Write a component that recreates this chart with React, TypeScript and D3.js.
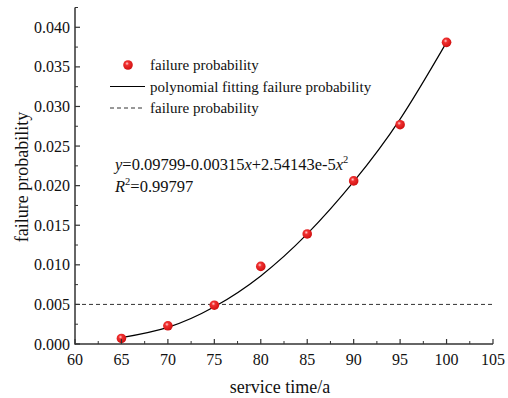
import React, { useEffect, useRef } from "react";
import * as d3 from "d3";

const serviceTime = [65, 70, 75, 80, 85, 90, 95, 100];
const failureProb = [0.0007, 0.0023, 0.0049, 0.0098, 0.0139, 0.0206, 0.0277, 0.0381];
const fitX = [65, 70, 75, 80, 85, 90, 95, 100];
const fitY = [0.0008, 0.0021, 0.0047, 0.0086, 0.0139, 0.0205, 0.0284, 0.0381];
const thresholdValue = 0.005;
const xTicks = [60, 65, 70, 75, 80, 85, 90, 95, 100, 105];
const yTicks = [0, 0.005, 0.01, 0.015, 0.02, 0.025, 0.03, 0.035, 0.04];
const legendLabels = [
  "failure probability",
  "polynomial fitting failure probability",
  "failure probability",
];

export default function App() {
  const ref = useRef<SVGSVGElement>(null);
  useEffect(() => {
    const svg = d3.select(ref.current);
    svg.selectAll("*").remove();
    const font = "'Liberation Serif', 'Times New Roman', serif";
    const x = d3.scaleLinear().domain([60, 105]).range([75, 493]);
    const y = d3.scaleLinear().domain([0, 0.0425]).range([344, 7.5]);

    const defs = svg.append("defs");
    const grad = defs
      .append("radialGradient")
      .attr("id", "ball")
      .attr("cx", "40%")
      .attr("cy", "35%")
      .attr("r", "65%");
    grad.append("stop").attr("offset", "0%").attr("stop-color", "#ffd0d0");
    grad.append("stop").attr("offset", "30%").attr("stop-color", "#f03030");
    grad.append("stop").attr("offset", "100%").attr("stop-color", "#d01010");

    // threshold dashed line
    svg
      .append("line")
      .attr("x1", x(60))
      .attr("x2", x(105))
      .attr("y1", y(thresholdValue))
      .attr("y2", y(thresholdValue))
      .attr("stroke", "#333")
      .attr("stroke-width", 1)
      .attr("stroke-dasharray", "4,3");

    // fit curve
    const line = d3
      .line<number>()
      .x((d, i) => x(fitX[i]))
      .y((d) => y(d))
      .curve(d3.curveNatural);
    svg
      .append("path")
      .attr("d", line(fitY))
      .attr("fill", "none")
      .attr("stroke", "#000")
      .attr("stroke-width", 1.2);

    // points
    svg
      .selectAll("circle.pt")
      .data(failureProb)
      .enter()
      .append("circle")
      .attr("class", "pt")
      .attr("cx", (d, i) => x(serviceTime[i]))
      .attr("cy", (d) => y(d))
      .attr("r", 4.8)
      .attr("fill", "url(#ball)");

    // axes
    const axisColor = "#333";
    svg
      .append("line")
      .attr("x1", x(60))
      .attr("x2", x(105))
      .attr("y1", 344)
      .attr("y2", 344)
      .attr("stroke", axisColor)
      .attr("stroke-width", 1.5);
    svg
      .append("line")
      .attr("x1", 75)
      .attr("x2", 75)
      .attr("y1", y(0.0425))
      .attr("y2", 344.75)
      .attr("stroke", axisColor)
      .attr("stroke-width", 1.5);

    // x ticks
    xTicks.forEach((t) => {
      svg
        .append("line")
        .attr("x1", x(t))
        .attr("x2", x(t))
        .attr("y1", 344)
        .attr("y2", 339)
        .attr("stroke", axisColor)
        .attr("stroke-width", 1.2);
      svg
        .append("text")
        .attr("x", x(t))
        .attr("y", 365)
        .attr("text-anchor", "middle")
        .attr("font-family", font)
        .attr("font-size", 16)
        .attr("fill", "#111")
        .text(String(t));
    });
    d3.range(62.5, 105, 5).forEach((t) => {
      svg
        .append("line")
        .attr("x1", x(t))
        .attr("x2", x(t))
        .attr("y1", 344)
        .attr("y2", 341)
        .attr("stroke", axisColor)
        .attr("stroke-width", 1);
    });

    // y ticks
    yTicks.forEach((t) => {
      svg
        .append("line")
        .attr("x1", 75)
        .attr("x2", 80)
        .attr("y1", y(t))
        .attr("y2", y(t))
        .attr("stroke", axisColor)
        .attr("stroke-width", 1.2);
      svg
        .append("text")
        .attr("x", 70)
        .attr("y", y(t) + 5.5)
        .attr("text-anchor", "end")
        .attr("font-family", font)
        .attr("font-size", 16)
        .attr("fill", "#111")
        .text(d3.format(".3f")(t));
    });
    d3.range(0.0025, 0.043, 0.005).forEach((t) => {
      svg
        .append("line")
        .attr("x1", 75)
        .attr("x2", 78)
        .attr("y1", y(t))
        .attr("y2", y(t))
        .attr("stroke", axisColor)
        .attr("stroke-width", 1);
    });

    // axis labels
    svg
      .append("text")
      .attr("x", 280)
      .attr("y", 393)
      .attr("text-anchor", "middle")
      .attr("font-family", font)
      .attr("font-size", 18)
      .attr("fill", "#111")
      .text("service time/a");
    svg
      .append("text")
      .attr("transform", "translate(28,177) rotate(-90)")
      .attr("text-anchor", "middle")
      .attr("font-family", font)
      .attr("font-size", 18)
      .attr("fill", "#111")
      .text("failure probability");

    // legend
    const rows = [65, 86.5, 108];
    svg
      .append("circle")
      .attr("cx", 128)
      .attr("cy", rows[0])
      .attr("r", 4.8)
      .attr("fill", "url(#ball)");
    svg
      .append("line")
      .attr("x1", 110)
      .attr("x2", 145)
      .attr("y1", rows[1])
      .attr("y2", rows[1])
      .attr("stroke", "#000")
      .attr("stroke-width", 1.2);
    svg
      .append("line")
      .attr("x1", 110)
      .attr("x2", 145)
      .attr("y1", rows[2])
      .attr("y2", rows[2])
      .attr("stroke", "#333")
      .attr("stroke-width", 1)
      .attr("stroke-dasharray", "4,3");
    legendLabels.forEach((lab, i) => {
      svg
        .append("text")
        .attr("x", 150)
        .attr("y", rows[i] + 5)
        .attr("font-family", font)
        .attr("font-size", 15)
        .attr("fill", "#111")
        .text(lab);
    });

    // equation
    const eq = svg
      .append("text")
      .attr("x", 115)
      .attr("y", 170)
      .attr("font-family", font)
      .attr("font-size", 16.5)
      .attr("fill", "#111");
    eq.append("tspan").attr("font-style", "italic").text("y");
    eq.append("tspan").text("=0.09799-0.00315");
    eq.append("tspan").attr("font-style", "italic").text("x");
    eq.append("tspan").text("+2.54143e-5");
    eq.append("tspan").attr("font-style", "italic").text("x");
    eq.append("tspan").attr("font-size", 10.5).attr("dy", -7).text("2");

    const r2 = svg
      .append("text")
      .attr("x", 115)
      .attr("y", 192)
      .attr("font-family", font)
      .attr("font-size", 16.5)
      .attr("fill", "#111");
    r2.append("tspan").attr("font-style", "italic").text("R");
    r2.append("tspan").attr("font-size", 10.5).attr("dy", -7).text("2");
    r2.append("tspan").attr("dy", 7).text("=0.99797");
  }, []);

  return (
    <svg
      ref={ref}
      width={508}
      height={398}
      style={{ position: "absolute", left: 0, top: 0, background: "#fff" }}
    />
  );
}
